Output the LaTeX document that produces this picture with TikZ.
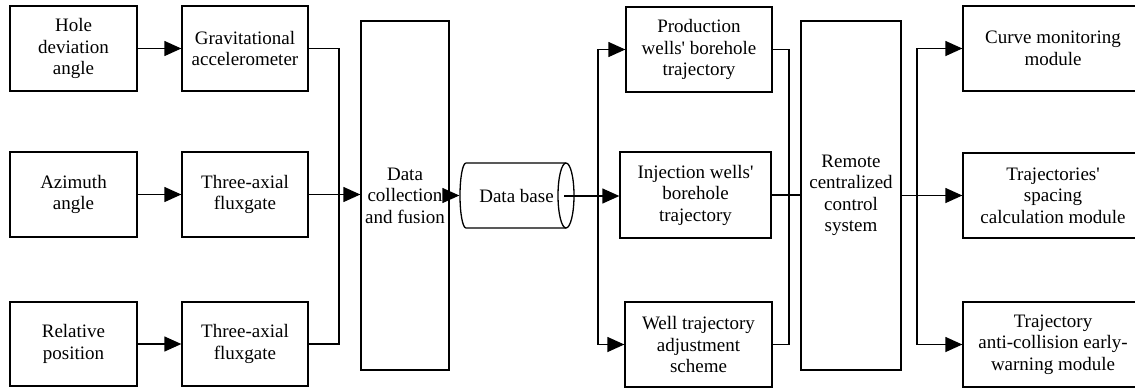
\documentclass[tikz,border=0pt]{standalone}
\usepackage{fontspec}
\setmainfont{Liberation Serif}[Ligatures=TeXOff]
\usetikzlibrary{arrows.meta}
\begin{document}
\begin{tikzpicture}[x=1pt,y=-1pt,
  line width=1.3pt,
  every node/.style={font=\fontsize{19}{21.5}\selectfont, align=center, inner sep=0pt},
  blk/.style={draw, minimum height=85pt},
  arr/.style={-{Triangle[length=17pt,width=15pt]}},
  link/.style={line join=miter}]
\useasboundingbox (0,0) rectangle (1135,389);
\begin{scope}
\clip (0,0) rectangle (1135,389);
% sensors
\node[blk, minimum width=127pt] (hole) at (73.5,48.5) {Hole\\deviation\\angle};
\node[blk, minimum width=126pt] (grav) at (245,48.5) {Gravitational\\accelerometer};
\node[blk, minimum width=127pt] (azim) at (73.5,194.5) {Azimuth\\angle};
\node[blk, minimum width=126pt] (flxa) at (245,194.5) {Three-axial\\fluxgate};
\node[blk, minimum width=127pt, minimum height=84pt] (rel) at (73.5,344) {Relative\\position};
\node[blk, minimum width=126pt, minimum height=84pt] (flxb) at (245,344) {Three-axial\\fluxgate};
% fusion and storage
\node[draw, minimum width=88pt, minimum height=349pt] (dcf) at (405,195.5) {Data\\collection\\and fusion};
\node[minimum width=113pt, minimum height=65pt] (db) at (516.5,195.5) {Data base};
\draw (466,163) -- (566,163)
      arc[start angle=-90, end angle=90, x radius=8, y radius=32.5]
      -- (466,228)
      arc[start angle=90, end angle=270, x radius=6, y radius=32.5];
\draw (566,228) arc[start angle=90, end angle=270, x radius=8, y radius=32.5];
\coordinate (dbout) at (564,196);
% trajectories
\node[blk, minimum width=146pt] (prod) at (699,49.5) {Production\\wells' borehole\\trajectory};
\node[blk, minimum width=151pt, minimum height=86pt] (inj) at (695.5,195) {Injection wells'\\borehole\\trajectory};
\node[blk, minimum width=147pt] (well) at (698.5,344.5) {Well trajectory\\adjustment\\scheme};
% control
\node[draw, minimum width=100pt, minimum height=349pt] (rem) at (851,195.5) {Remote\\centralized\\control\\system};
% modules
\node[blk, minimum width=180pt] (curve) at (1053,48.5) {Curve monitoring\\module};
\node[blk, minimum width=180pt] (space) at (1053,195.5) {Trajectories'\\spacing\\calculation module};
\node[blk, minimum width=180pt] (anti) at (1053,344.5) {Trajectory\\anti-collision early-\\warning module};
% junction points
\coordinate (ja) at (339,0);
\coordinate (jb) at (598,0);
\coordinate (jc) at (789,0);
\coordinate (jd) at (917,0);
% sensor arrows
\draw[arr] (hole.east) -- (grav.west);
\draw[arr] (azim.east) -- (flxa.west);
\draw[arr] (rel.east) -- (flxb.west);
% into fusion
\draw[link] (grav.east) -| (ja |- flxb.east) -- (flxb.east);
\draw[arr] (flxa.east) -- (flxa.east -| dcf.west);
\draw[arr] (dcf.east |- db.west) -- (db.west);
% from data base
\draw (dbout) -- (jb |- dbout);
\draw[arr, link] (jb |- dbout) |- (prod.west);
\draw[arr, link] (jb |- dbout) |- (well.west);
\draw[arr] (dbout) -- (dbout -| inj.west);
% to control
\draw[link] (prod.east) -| (jc |- well.east) -- (well.east);
\draw (inj.east) -- (inj.east -| rem.west);
% from control
\draw (rem.east |- space.west) -- (jd |- space.west);
\draw[arr, link] (jd |- space.west) |- (curve.west);
\draw[arr, link] (jd |- space.west) |- (anti.west);
\draw[arr] (rem.east |- space.west) -- (space.west);
\end{scope}
\end{tikzpicture}
\end{document}
